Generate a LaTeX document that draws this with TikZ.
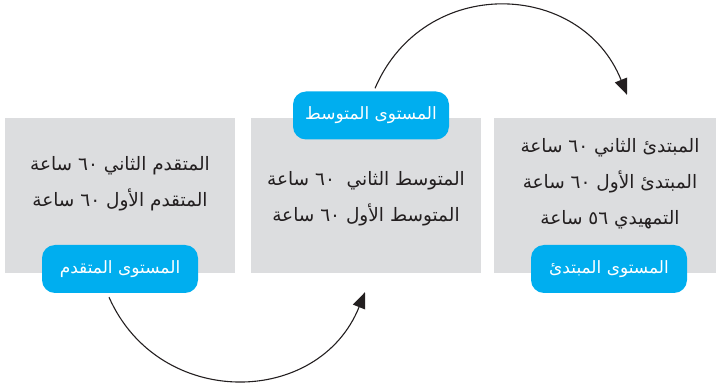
\documentclass[tikz,border=0pt]{standalone}
\usepackage{fontspec}
\newfontfamily\arabicfont[Script=Arabic]{DejaVu Sans}
\TeXXeTstate=1
\usepackage{xcolor}
\usepackage{tikz}
\usetikzlibrary{arrows.meta}
\definecolor{boxgray}{HTML}{DCDDDF}
\definecolor{lblblue}{HTML}{00AEEF}
\definecolor{inkblack}{HTML}{231F20}
\tikzset{
	lvlbox/.style={fill=boxgray, minimum height=155, inner sep=0},
	lvltext/.style={text=inkblack, align=center, font=\arabicfont\fontsize{18.5}{36}\selectfont},
	lvllabel/.style={fill=lblblue, rounded corners=13, minimum width=156, minimum height=48, inner sep=0, text=white, font=\arabicfont\fontsize{17}{20}\selectfont},
	turn/.style={line width=1.1, draw=inkblack, -{Triangle[length=16,width=13]}}
}
\begin{document}
\begin{tikzpicture}[x=1pt, y=1pt]
	\useasboundingbox (0,0) rectangle (716,386);
	% the three level boxes
	\foreach \n/\x/\w in {adv/120/230, mid/366/230, beg/605/222} {
		\node[lvlbox, minimum width=\w] (\n box) at (\x,190.5) {};
	}
	\node[lvltext] (advtxt) at (120,202.5) {\beginR المتقدم الثاني ٦٠ ساعة\endR\\ \beginR المتقدم الأول ٦٠ ساعة\endR};
	\node[lvltext] (midtxt) at (366,187.5) {\beginR المتوسط الثاني \ ٦٠ ساعة\endR\\ \beginR المتوسط الأول ٦٠ ساعة\endR};
	\node[lvltext] (begtxt) at (610,202) {\beginR المبتدئ الثاني ٦٠ ساعة\endR\\ \beginR المبتدئ الأول ٦٠ ساعة\endR\\ \beginR التمهيدي ٥٦ ساعة\endR};
	% blue labels
	\node[lvllabel] (advlbl) at (120,117) {\beginR المستوى المتقدم\endR};
	\node[lvllabel] (midlbl) at (371,270.5) {\beginR المستوى المتوسط\endR};
	\node[lvllabel] (beglbl) at (609,117) {\beginR المستوى المبتدئ\endR};
	% arrow ends
	\coordinate (advout) at ([shift={(-11,-4)}]advlbl.south);
	\coordinate (midin) at ([shift={(-1,-19)}]midbox.south);
	\coordinate (midout) at ([shift={(4,3)}]midlbl.north);
	\coordinate (begin) at ([shift={(22,23)}]begbox.north);
	\draw[turn] (advout) .. controls ++(50,-113) and ([shift={(-46,-115)}]midin) .. (midin);
	\draw[turn] (midout) .. controls ++(49,114) and ([shift={(-46,115)}]begin) .. (begin);
\end{tikzpicture}
\end{document}
